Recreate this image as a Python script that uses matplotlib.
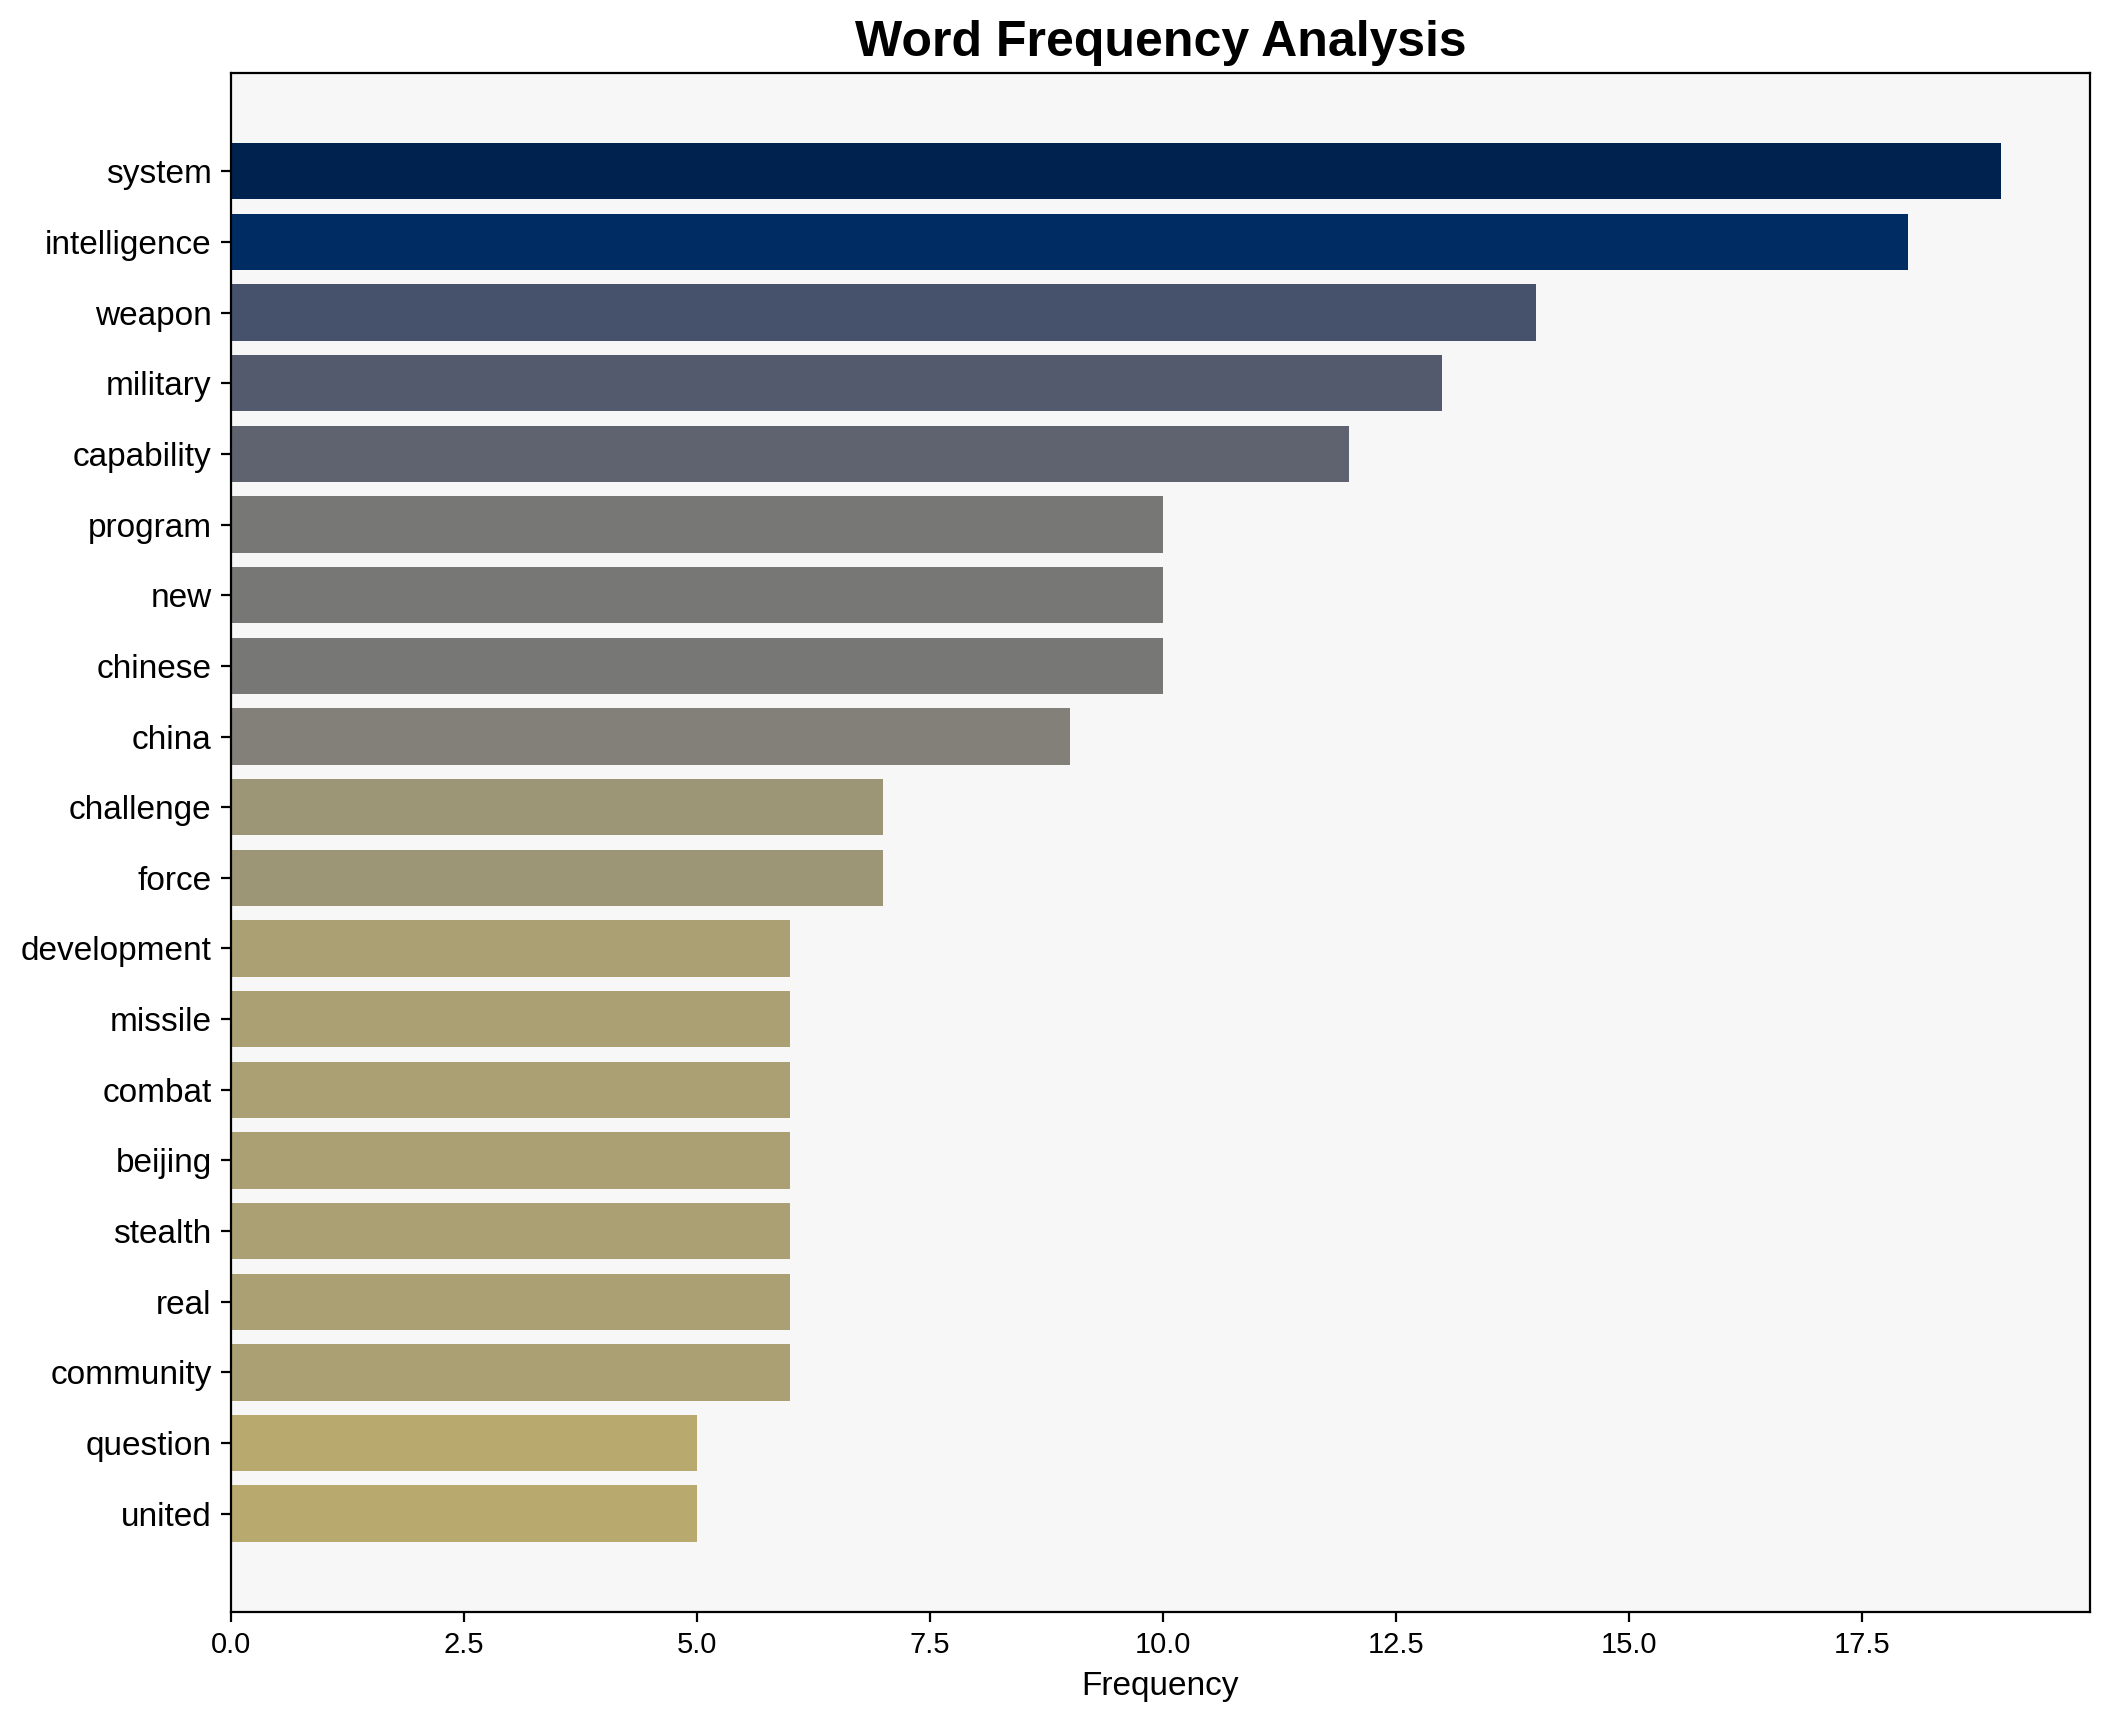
import matplotlib
matplotlib.use("Agg")
import matplotlib.pyplot as plt
import numpy as np

words = ["system", "intelligence", "weapon", "military", "capability", "program",
         "new", "chinese", "china", "challenge", "force", "development", "missile",
         "combat", "beijing", "stealth", "real", "community", "question", "united"]
counts = [19, 18, 14, 13, 12, 10, 10, 10, 9, 7, 7, 6, 6, 6, 6, 6, 6, 6, 5, 5]

plt.rcParams["font.family"] = ["Liberation Sans", "DejaVu Sans"]

fig = plt.figure(figsize=(10.55, 8.61), dpi=200)
ax = fig.add_axes([0.1095, 0.0639, 0.881, 0.8937])
ax.set_facecolor("#f7f7f7")

# darker colour for the more frequent words
vals = np.array(counts, dtype=float)
colors = plt.cm.cividis(1 - vals / vals.max())
y = np.arange(len(words))
ax.barh(y, vals, color=colors)
ax.set_yticks(y)
ax.set_yticklabels(words, fontsize=12)
ax.invert_yaxis()
ax.tick_params(axis="x", labelsize=10.5)
ax.set_xlabel("Frequency", fontsize=12)
ax.set_title("Word Frequency Analysis", fontsize=18, fontweight="bold")

fig.savefig("out.png", dpi=200)
